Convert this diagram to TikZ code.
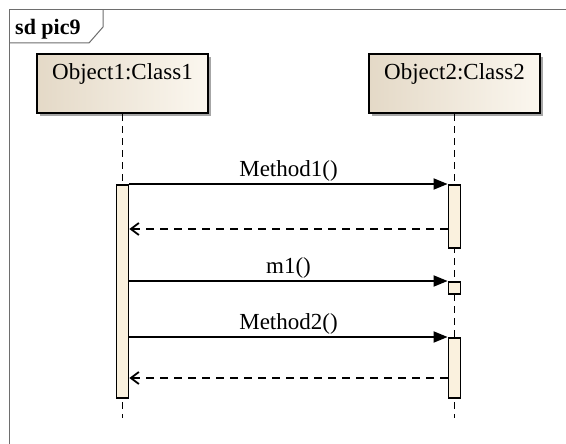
\documentclass[tikz,border=0pt]{standalone}
\usepackage{fontspec}
\setmainfont{Liberation Serif}
\usetikzlibrary{arrows.meta,shadows}

\definecolor{boxdark}{RGB}{228,217,199}
\definecolor{boxlight}{RGB}{251,247,239}
\definecolor{barfill}{RGB}{250,241,222}
\definecolor{framegray}{RGB}{110,110,110}

\begin{document}
\begin{tikzpicture}[x=1pt,y=-1pt,
  every node/.style={font=\fontsize{23}{27}\selectfont},
  objbox/.style={draw=black, line width=2.2pt, minimum width=171pt, minimum height=59pt,
    inner sep=0pt, anchor=north, left color=boxdark, right color=boxlight,
    drop shadow={shadow xshift=3pt, shadow yshift=-3pt, fill=black!35, opacity=1}},
  actbar/.style={draw=black, line width=1.8pt, fill=barfill, minimum width=12pt,
    inner sep=0pt, anchor=north},
  lifeline/.style={draw=black, line width=0.8pt, dash pattern=on 7pt off 5pt},
  call/.style={draw=black, line width=1.8pt, -{Triangle[length=14pt,width=11pt]}},
  reply/.style={draw=black, line width=1.8pt, dash pattern=on 8pt off 6pt,
    -{Straight Barb[length=8pt,width=12pt,line width=1.8pt]}},
  msg/.style={above, inner sep=2pt}]
\useasboundingbox (0,0) rectangle (566,444);
\fill[white] (0,0) rectangle (566,444);

% frame and its name tab
\draw[framegray, line width=1pt] (566,10) -- (9,10) -- (9,444);
\draw[framegray, line width=1pt] (9,43) -- (89,43) -- (103,27) -- (103,10);
\node[anchor=base west, inner sep=0pt, font=\fontsize{22}{26}\selectfont\bfseries] (tab) at (15,35) {sd pic9};

% objects
\node[objbox] (o1) at (122.5,53) {};
\node[objbox] (o2) at (454.5,53) {};
\node[anchor=base, inner sep=0pt] (o1t) at (122.5,80) {Object1:Class1};
\node[anchor=base, inner sep=0pt] (o2t) at (454.5,80) {Object2:Class2};

% lifelines
\coordinate (e1) at (122.5,418);
\coordinate (e2) at (454.5,418);
\draw[lifeline] (o1.south) -- (e1);
\draw[lifeline] (o2.south) -- (e2);

% activations
\node[actbar, minimum height=213pt] (a1) at (122.5,184) {};
\node[actbar, minimum height=63pt] (a2) at (454.5,184) {};
\node[actbar, minimum width=12pt, minimum height=12pt] (a3) at (454.5,281) {};
\node[actbar, minimum height=60pt] (a4) at (454.5,337) {};

% messages
\draw[call] (a1.north east) -- node[msg] {Method1()} (a2.north west);
\draw[reply] (a2.west |- 0,229) -- (a1.east |- 0,229);
\draw[call] (a1.east |- a3.north west) -- node[msg] {m1()} (a3.north west);
\draw[call] (a1.east |- a4.north west) -- node[msg] {Method2()} (a4.north west);
\draw[reply] (a4.west |- 0,378) -- (a1.east |- 0,378);
\end{tikzpicture}
\end{document}
